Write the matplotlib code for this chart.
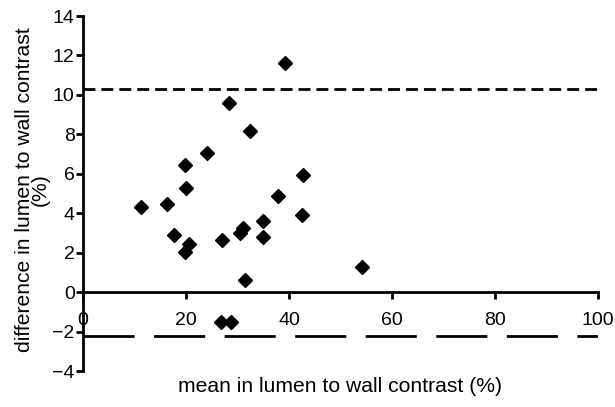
import matplotlib
matplotlib.use("Agg")
from matplotlib import pyplot as plt
import numpy as np

plt.rcParams['font.family'] = ['Liberation Sans', 'DejaVu Sans']

# Bland-Altman style data
mean_contrast = [11.3, 16.3, 17.7, 19.8, 20.0, 19.8, 20.6, 24.1, 28.3, 27.0,
                 32.4, 30.5, 31.1, 31.5, 35.0, 35.0, 37.9, 39.2, 42.7, 42.5,
                 54.2, 26.8, 28.7]
diff_contrast = [4.3, 4.47, 2.9, 6.45, 5.28, 2.03, 2.44, 7.06, 9.6, 2.64,
                 8.17, 3.0, 3.25, 0.61, 3.6, 2.8, 4.87, 11.6, 5.94, 3.9,
                 1.27, -1.52, -1.52]
upper_limit = 10.3
lower_limit = -2.23

xticks = [0, 20, 40, 60, 80, 100]
yticks = [-4, -2, 0, 2, 4, 6, 8, 10, 12, 14]

fig = plt.figure(figsize=(6.15, 4.07), dpi=100)
ax = fig.add_axes([83/615, 1-371/407, (598-83)/615, (371-16)/407])

ax.plot(mean_contrast, diff_contrast, 'D', color='black', markersize=7, zorder=3,
        clip_on=False)
ax.axhline(upper_limit, color='black', lw=2, dashes=(4.3, 2.15))
ax.axhline(lower_limit, color='black', lw=2, dashes=(18.4, 7.0))

ax.set_xlim(0, 100)
ax.set_ylim(-4, 14)
ax.spines['top'].set_visible(False)
ax.spines['right'].set_visible(False)
ax.spines['bottom'].set_position(('data', 0))
for s in ('left', 'bottom'):
    ax.spines[s].set_linewidth(2)

ax.set_xticks(xticks)
ax.set_yticks(yticks)
ax.tick_params(axis='both', width=2, length=5, labelsize=14)
ax.tick_params(axis='x', pad=9)
ax.tick_params(axis='y', pad=1)

ax.set_ylabel('difference in lumen to wall contrast\n(%)', fontsize=15.2, linespacing=0.8)
ax.yaxis.set_label_coords(-0.065, 0.51)
fig.text(340/615, 1-386/407, 'mean in lumen to wall contrast (%)', fontsize=15.2,
         ha='center', va='center')

fig.savefig('out.png', dpi=100)
